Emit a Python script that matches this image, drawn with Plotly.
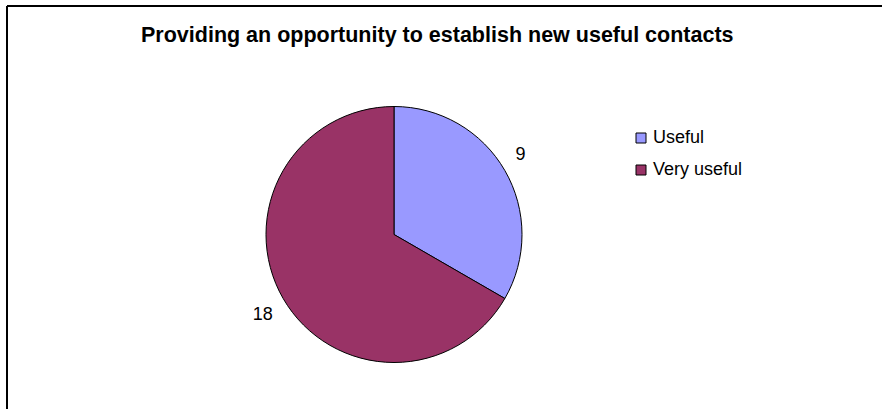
import plotly.graph_objects as go

# Survey answers for the contacts question
categories = ["Useful", "Very useful"]
counts = [9, 18]
slice_colors = ["#9999FF", "#993366"]
chart_title = "Providing an opportunity to establish new useful contacts"

W, H = 882, 409
FONT = "Liberation Sans, Arial, sans-serif"


def px_x(x):
    return x / W


def px_y(y):
    # pixel measured from the top -> paper coordinate
    return 1 - y / H


# pie placement (centre and radius in pixels)
cx, cy, r = 394, 234.5, 128

# outside value labels sit a little further from the rim: a blank line
# on the side facing the pie pushes each number outward
PAD = "<span style='font-size:15px'>\u00a0</span>"
label_templates = ["%{value}<br>" + PAD, PAD + "<br>%{value}"]

fig = go.Figure(
    go.Pie(
        labels=categories,
        values=counts,
        sort=False,
        direction="clockwise",
        rotation=0,
        marker=dict(colors=slice_colors, line=dict(color="black", width=1)),
        texttemplate=label_templates,
        textposition="outside",
        outsidetextfont=dict(family=FONT, size=18, color="black"),
        domain=dict(x=[px_x(cx - r), px_x(cx + r)], y=[px_y(cy + r), px_y(cy - r)]),
        showlegend=False,
        hoverinfo="label+value",
    )
)

shapes = [
    # chart frame (top and left edges)
    dict(type="line", xref="paper", yref="paper", x0=px_x(7), x1=1.02,
         y0=px_y(6), y1=px_y(6), line=dict(color="black", width=2)),
    dict(type="line", xref="paper", yref="paper", x0=px_x(7), x1=px_x(7),
         y0=px_y(6), y1=-0.02, line=dict(color="black", width=2)),
]
annotations = [
    dict(text="<b>%s</b>" % chart_title, x=px_x(437.5), y=px_y(35),
         xref="paper", yref="paper", xanchor="center", yanchor="middle",
         showarrow=False, font=dict(family=FONT, size=21.5, color="black")),
]

# legend: square swatch + label per category
legend_x, legend_y0, legend_step, sw = 636, 138, 32, 10
for i, (name, col) in enumerate(zip(categories, slice_colors)):
    yc = legend_y0 + i * legend_step
    shapes.append(dict(type="rect", xref="paper", yref="paper",
                       x0=px_x(legend_x), x1=px_x(legend_x + sw),
                       y0=px_y(yc + sw / 2), y1=px_y(yc - sw / 2),
                       fillcolor=col, line=dict(color="black", width=1)))
    annotations.append(dict(text=name, x=px_x(legend_x + sw + 5), y=px_y(yc - 1),
                            xref="paper", yref="paper", xanchor="left", yanchor="middle",
                            showarrow=False,
                            font=dict(family=FONT, size=18, color="black")))

fig.update_layout(
    width=W,
    height=H,
    margin=dict(l=0, r=0, t=0, b=0),
    paper_bgcolor="white",
    plot_bgcolor="white",
    shapes=shapes,
    annotations=annotations,
)

fig.write_html("out.html")
